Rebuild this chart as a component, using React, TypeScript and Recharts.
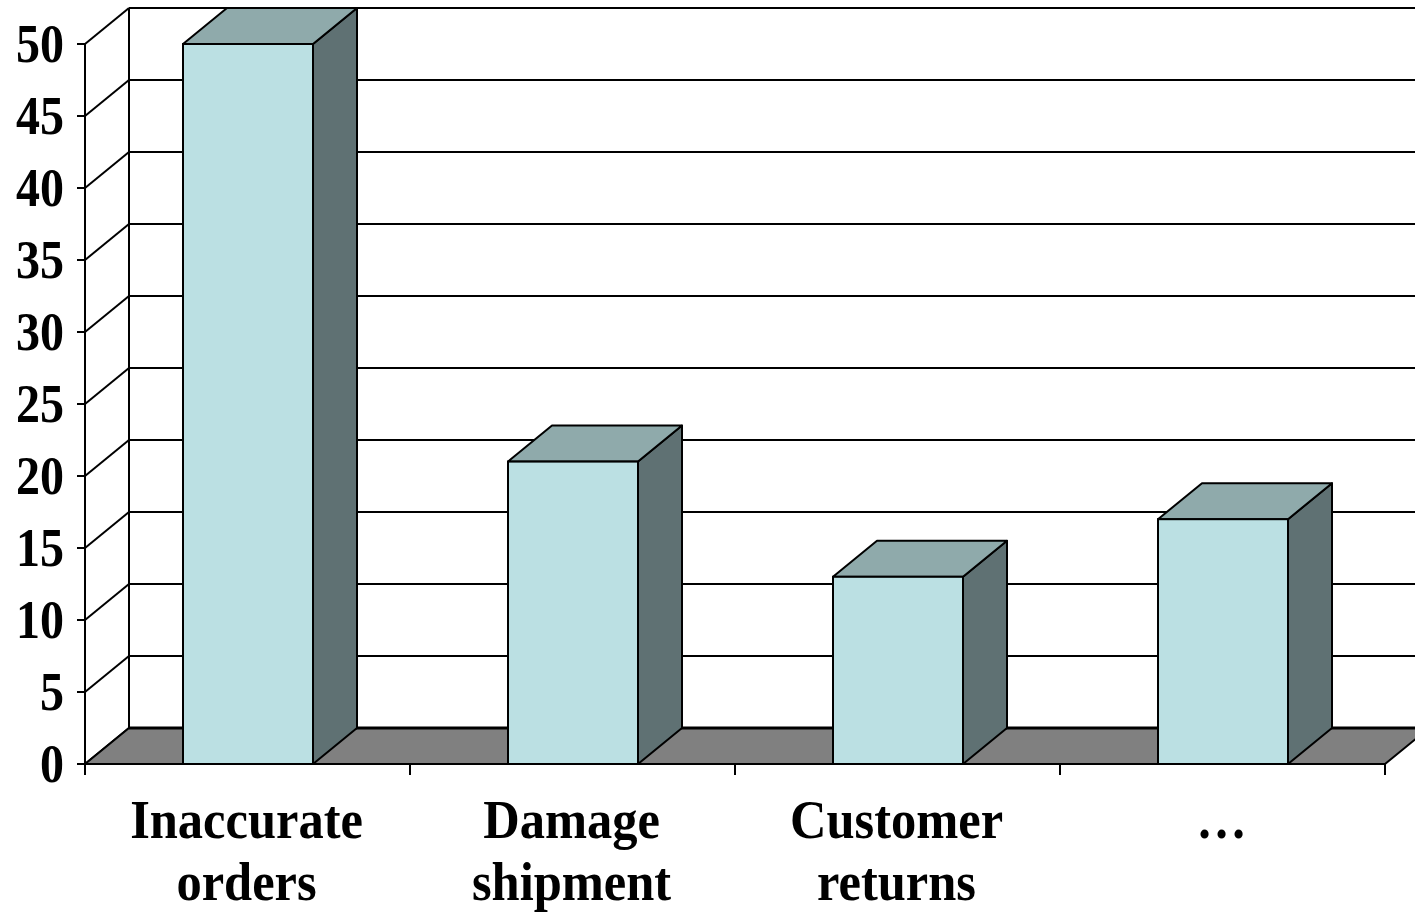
import React from 'react';
import { BarChart, Bar, XAxis, YAxis, CartesianGrid, ReferenceArea } from 'recharts';

const categories = ['Inaccurate orders', 'Damage shipment', 'Customer returns', '…'];
const values = [50, 21, 13, 17];
const yTicks = [0, 5, 10, 15, 20, 25, 30, 35, 40, 45, 50];

const data = categories.map((name, i) => ({ name, value: values[i] }));

const DX = 44;
const DY = 36;
const FONT = '"Liberation Serif", "Times New Roman", serif';
const SY = 1.07;
const SY_Y = 1.13;

const Box3D = (props: any) => {
  const { x, y, width: w, height: h } = props;
  if (w == null || h == null) return null;
  return (
    <g>
      <polygon
        points={`${x + w},${y} ${x + w + DX},${y - DY} ${x + w + DX},${y + h - DY} ${x + w},${y + h}`}
        fill="#5F7173"
        stroke="#000"
        strokeWidth={2}
        strokeLinejoin="round"
      />
      <polygon
        points={`${x},${y} ${x + DX},${y - DY} ${x + w + DX},${y - DY} ${x + w},${y}`}
        fill="#8FAAAB"
        stroke="#000"
        strokeWidth={2}
        strokeLinejoin="round"
      />
      <rect x={x} y={y} width={w} height={h} fill="#BBE0E3" stroke="#000" strokeWidth={2} />
    </g>
  );
};

const gridLine = (p: any) => {
  const { x1, y1, x2, key } = p;
  return (
    <g key={key}>
      <line x1={x1} y1={y1} x2={x1 + DX} y2={y1 - DY} stroke="#000" strokeWidth={2} />
      <line x1={x1 + DX} y1={y1 - DY} x2={x2 + DX} y2={y1 - DY} stroke="#000" strokeWidth={2} />
    </g>
  );
};

const Walls = (p: any) => {
  const { x, y, width, height } = p;
  const b = y + height;
  return (
    <g>
      <line x1={x + DX} y1={y - DY} x2={x + DX} y2={b - DY} stroke="#000" strokeWidth={2} />
      <polygon
        points={`${x},${b} ${x + DX},${b - DY} ${x + width + DX},${b - DY} ${x + width},${b}`}
        fill="#808080"
        stroke="#000"
        strokeWidth={2}
      />
      <line x1={x + DX} y1={b - DY} x2={x + width + DX} y2={b - DY} stroke="#000" strokeWidth={3} />
    </g>
  );
};

const YTick = (p: any) => {
  const { x, y, payload } = p;
  return (
    <g transform={`translate(${x},${y}) scale(1,${SY_Y})`}>
      <text x={0} y={16.3} textAnchor="end" fontFamily={FONT} fontWeight="bold" fontSize={48} fill="#000">
        {payload.value}
      </text>
    </g>
  );
};

const XTick = (p: any) => {
  const { x, y, payload, index } = p;
  const off = payload.offset ?? 162.5;
  const lines = String(payload.value).split(' ');
  return (
    <g>
      <line x1={x - off} y1={y - 9} x2={x - off} y2={y + 2} stroke="#000" strokeWidth={2} />
      {index === categories.length - 1 && (
        <line x1={x + off} y1={y - 9} x2={x + off} y2={y + 2} stroke="#000" strokeWidth={2} />
      )}
      {lines.map((t, i) => (
        <g key={i} transform={`translate(${x - 1},${y + 65 + i * 62}) scale(1,${SY})`}>
          <text x={0} y={0} textAnchor="middle" fontFamily={FONT} fontWeight="bold" fontSize={50.5} fill="#000">
            {t}
          </text>
        </g>
      ))}
    </g>
  );
};

export default function App() {
  return (
    <div style={{ position: 'absolute', left: 0, top: 0, background: '#fff' }}>
      <BarChart
        width={1415}
        height={914}
        data={data}
        margin={{ top: 44, right: 30, bottom: 0, left: 0 }}
        barCategoryGap={0}
      >
        <CartesianGrid horizontal={gridLine} vertical={false} stroke="#000" />
        <ReferenceArea y1={0} y2={50} ifOverflow="visible" shape={Walls} zIndex={-60} />
        <XAxis
          dataKey="name"
          height={150}
          tickLine={false}
          tickSize={9}
          tickMargin={0}
          axisLine={{ stroke: '#000', strokeWidth: 2 }}
          tick={XTick}
          interval={0}
        />
        <YAxis
          width={85}
          domain={[0, 50]}
          ticks={yTicks}
          interval={0}
          tickSize={8}
          tickMargin={13}
          axisLine={{ stroke: '#000', strokeWidth: 2 }}
          tickLine={{ stroke: '#000', strokeWidth: 2 }}
          tick={YTick}
        />
        <Bar dataKey="value" barSize={130} shape={Box3D} isAnimationActive={false} />
      </BarChart>
    </div>
  );
}
